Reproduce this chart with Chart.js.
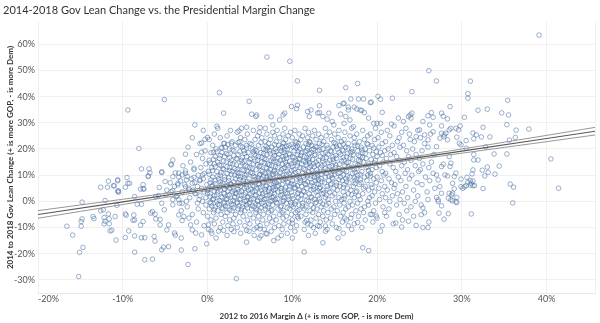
<!DOCTYPE html>
<html>
<head>
<meta charset="utf-8">
<script src="https://cdn.jsdelivr.net/npm/chart.js@4.4.0/dist/chart.umd.min.js"></script>
<style>
  html, body { margin: 0; padding: 0; background: #fff; }
  #wrap { width: 600px; height: 323px; }
</style>
</head>
<body>
<div id="wrap"><canvas id="gov-scatter" width="600" height="323"></canvas></div>
<script>
// Gov lean change 2014->2018 vs presidential margin change 2012->2016 (values in %)

const TITLE   = '2014-2018 Gov Lean Change vs. the Presidential Margin Change';
const X_TITLE = '2012 to 2016 Margin Δ (+ is more GOP, - is more Dem)';
const Y_TITLE = '2014 to 2018 Gov Lean Change (+ is more GOP, - is more Dem)';

const xRange = [-20, 45.7];
const yRange = [-35, 68.5];

// trend line + confidence band
const trendX  = [-20, -10, 0, 10, 20, 30, 40, 45.7];
const trendMid = [-5.0, -0.2, 4.7, 9.5, 14.4, 19.2, 24.0, 26.8];
const trendHi  = [-3.55, 0.8, 5.3, 9.85, 14.85, 20.0, 25.2, 28.25];
const trendLo  = [-6.45, -1.2, 4.1, 9.15, 13.95, 18.4, 22.8, 25.35];

// middle of the cloud: [y, x, x, x ...]
const coreRows = [
  [27.9, 1.2, 4.0, 6.8, 9.1, 11.5, 13.9, 17.0, 19.8, 23.4],
  [27.1, -0.5, 2.7, 5.4, 8.2, 10.3, 12.6, 15.5, 18.3, 21.2, 24.8],
  [26.4, 3.5, 6.1, 7.7, 9.8, 11.9, 14.4, 16.2, 20.5, 22.9],
  [25.7, 0.8, 4.7, 7.0, 8.9, 10.8, 13.1, 15.0, 17.6, 19.2, 23.8, 26.3],
  [25.0, 2.3, 5.9, 7.9, 9.5, 11.2, 12.4, 14.0, 16.8, 18.9, 21.5],
  [24.3, -1.8, 1.5, 3.9, 6.4, 8.5, 10.0, 11.8, 13.4, 15.4, 17.3, 20.1, 22.6, 25.1],
  [23.6, 0.2, 4.4, 5.6, 7.4, 9.2, 11.0, 12.8, 14.6, 16.1, 18.5, 19.7, 23.9],
  [22.8, 2.9, 3.8, 6.8, 8.1, 10.4, 12.0, 13.7, 15.8, 17.9, 21.0, 22.4, 24.4],
  [22.1, -0.9, 1.9, 5.0, 7.2, 9.0, 10.7, 11.6, 13.2, 15.1, 16.6, 18.8, 20.6, 25.6],
  [21.4, 0.6, 3.3, 4.6, 6.0, 8.4, 9.6, 12.3, 14.1, 15.6, 17.4, 19.4, 21.8, 23.1],
  [20.7, -2.3, 2.1, 4.1, 7.6, 8.8, 10.1, 11.3, 12.9, 14.8, 16.3, 18.1, 20.2, 22.7, 26.0],
  [20.0, 1.0, 2.6, 5.3, 6.6, 8.0, 9.4, 10.9, 12.5, 13.6, 15.3, 17.0, 18.6, 21.3, 24.2],
  [19.3, -0.3, 3.1, 4.3, 5.8, 7.3, 8.7, 10.2, 11.7, 13.0, 14.5, 16.0, 17.7, 19.1, 20.9, 23.5, 25.3],
  [18.6, 0.4, 1.7, 4.8, 6.3, 7.8, 9.0, 11.1, 12.2, 13.9, 15.5, 16.9, 18.3, 20.4, 22.0],
  [17.9, -1.3, 2.4, 3.6, 5.5, 7.0, 8.4, 9.7, 10.6, 12.7, 14.2, 15.7, 17.2, 19.5, 21.6, 24.6, 26.7],
  [17.1, 0.9, 2.0, 4.6, 6.0, 8.9, 10.0, 11.4, 13.3, 14.8, 16.4, 18.0, 20.0, 22.3, 23.7],
  [16.4, -0.6, 1.4, 3.4, 5.1, 6.7, 7.7, 9.3, 10.8, 12.0, 13.6, 15.2, 16.8, 18.7, 21.1, 25.0],
  [15.7, 0.2, 2.8, 4.0, 5.9, 7.5, 8.6, 10.4, 11.9, 13.1, 14.4, 16.1, 17.8, 19.8, 22.6, 24.0],
  [15.0, -2.0, 1.2, 2.2, 4.9, 6.4, 8.1, 9.2, 10.3, 11.6, 12.8, 14.9, 16.6, 18.4, 20.7, 23.2, 26.4],
  [14.3, -0.2, 0.8, 3.0, 5.4, 7.1, 8.8, 9.9, 11.1, 12.5, 13.8, 15.6, 17.4, 19.0, 21.5, 25.4],
  [13.6, -2.9, 1.6, 3.9, 4.5, 6.2, 7.6, 9.5, 10.6, 12.2, 13.5, 14.7, 16.2, 17.9, 20.3, 22.9, 24.5],
  [12.9, -0.8, 0.5, 2.6, 5.0, 6.9, 8.3, 9.1, 10.9, 12.0, 13.3, 15.1, 16.9, 18.7, 19.9, 21.9, 26.1],
  [12.1, -1.6, 1.9, 3.5, 4.1, 5.7, 7.4, 8.7, 10.2, 11.5, 12.9, 14.2, 15.9, 17.3, 19.4, 23.6, 25.1],
  [11.4, 0.1, 1.1, 2.9, 4.7, 6.5, 7.8, 9.4, 10.7, 11.9, 13.7, 14.9, 16.4, 18.2, 20.6, 22.2, 24.9],
  [10.7, -2.6, -0.4, 2.3, 3.7, 5.3, 6.8, 8.0, 9.6, 11.2, 12.4, 14.0, 15.4, 17.1, 19.2, 21.0, 23.3, 26.6],
  [10.0, -1.1, 1.5, 3.2, 4.4, 6.1, 7.3, 8.9, 10.1, 11.8, 13.0, 14.6, 16.0, 17.7, 18.9, 20.8, 24.1],
  [9.3, -3.4, 0.6, 2.0, 3.9, 5.6, 7.0, 8.5, 9.8, 11.3, 12.6, 13.9, 15.7, 16.8, 18.5, 20.0, 22.5, 25.7],
  [8.6, -1.9, -0.5, 1.3, 3.3, 4.9, 6.4, 7.7, 9.2, 10.5, 12.1, 13.4, 14.8, 16.3, 17.6, 19.6, 21.4, 23.8],
  [7.9, -0.9, 0.9, 2.5, 4.2, 5.9, 7.2, 8.4, 10.0, 11.0, 12.7, 14.3, 15.9, 17.4, 18.8, 20.5, 22.8, 26.2],
  [7.1, -4.4, -1.5, 0.3, 1.8, 3.6, 5.2, 6.6, 8.1, 9.5, 10.9, 12.3, 13.8, 15.2, 16.7, 18.1, 19.9, 21.7, 24.7],
  [6.4, -2.7, -0.1, 1.6, 2.8, 4.6, 6.1, 7.5, 8.8, 10.2, 11.6, 13.1, 14.5, 16.1, 17.9, 19.3, 22.1, 25.3],
  [5.7, -3.9, -1.2, 0.5, 2.2, 3.9, 5.5, 6.9, 8.2, 9.7, 11.1, 12.5, 14.1, 15.6, 17.2, 18.6, 20.9, 23.4],
  [5.0, -2.2, -0.7, 1.0, 2.6, 4.3, 5.8, 7.3, 8.7, 10.3, 11.7, 13.2, 14.9, 16.5, 18.4, 20.2, 22.0, 26.8],
  [4.3, -4.8, -1.7, 0.0, 1.5, 3.1, 4.8, 6.3, 7.8, 9.1, 10.8, 12.2, 13.6, 15.3, 16.9, 19.0, 21.2, 24.3],
  [3.6, -3.0, -0.4, 1.2, 2.9, 3.7, 5.3, 6.8, 8.3, 9.9, 11.4, 12.8, 14.4, 16.0, 17.5, 19.7, 23.0, 25.9],
  [2.9, -1.4, 0.3, 2.0, 3.4, 5.0, 6.5, 7.9, 9.4, 10.6, 12.0, 13.5, 15.0, 16.6, 18.3, 20.6, 22.4],
  [2.1, -3.6, -0.9, 0.8, 2.4, 4.0, 5.6, 7.0, 8.6, 10.0, 11.5, 13.0, 14.7, 16.2, 17.8, 19.4, 21.8, 24.8],
  [1.4, -2.1, -0.2, 1.7, 3.2, 4.7, 6.2, 7.6, 9.0, 10.7, 12.3, 13.9, 15.5, 17.3, 19.1, 21.0, 23.6],
  [0.7, -4.1, -1.0, 0.6, 2.2, 3.8, 5.1, 6.7, 8.0, 9.6, 11.0, 12.6, 14.2, 15.8, 18.0, 20.3, 22.7, 26.0],
  [0.0, -2.5, -0.6, 1.1, 2.7, 4.4, 5.9, 7.4, 8.9, 10.4, 11.9, 13.3, 15.1, 16.8, 18.9, 21.5, 24.5],
  [-0.7, -3.3, -1.2, 0.4, 1.9, 3.5, 4.9, 6.4, 8.2, 9.3, 11.2, 12.7, 14.3, 16.1, 17.7, 19.8, 23.2],
  [-1.4, -0.2, 1.4, 3.0, 4.6, 6.0, 7.7, 9.9, 10.8, 12.2, 14.0, 15.6, 17.1, 19.0, 22.3, 25.2],
  [-2.1, -2.4, 0.9, 2.4, 4.1, 5.5, 7.1, 8.6, 10.1, 11.6, 13.4, 14.9, 16.6, 18.5, 20.7, 24.0],
  [-2.9, -1.1, 0.2, 1.8, 3.6, 5.2, 6.8, 8.3, 9.7, 11.4, 12.9, 14.6, 16.3, 18.1, 21.4],
  [-3.6, -3.1, 1.2, 2.9, 4.4, 6.1, 7.5, 9.0, 10.6, 12.1, 13.7, 15.3, 17.5, 19.6, 23.5],
  [-4.3, -0.5, 0.7, 2.3, 3.9, 5.7, 7.2, 8.8, 10.4, 12.4, 14.2, 16.0, 18.4, 20.9, 25.6],
  [-5.0, -1.8, 1.6, 3.3, 5.0, 6.6, 8.5, 9.9, 11.6, 13.1, 15.0, 17.0, 19.2, 22.6],
  [-5.7, 0.0, 2.1, 4.2, 6.0, 7.8, 9.3, 11.0, 13.6, 15.7, 17.8, 21.1, 24.3],
  [-6.4, -2.2, 1.0, 3.1, 5.4, 7.3, 8.9, 10.7, 12.8, 14.5, 16.9, 20.0],
  [-7.1, 0.4, 2.6, 4.7, 6.5, 8.1, 10.0, 12.2, 14.0, 16.4, 18.6, 23.0],
  [-7.9, -1.3, 1.8, 3.8, 5.9, 7.6, 9.6, 11.5, 13.3, 15.9, 19.5],
  [-8.6, 0.8, 3.0, 5.0, 7.0, 9.0, 11.8, 14.7, 17.3, 21.9],
  [-9.3, -0.4, 2.4, 4.4, 6.2, 8.4, 10.5, 13.0, 16.6, 20.6],
  [-10.0, 1.5, 3.5, 5.8, 7.9, 9.8, 12.5, 15.2, 18.2],
  [-10.7, 0.1, 2.8, 6.7, 8.8, 11.4, 14.1, 17.0],
  [-11.4, 1.3, 4.9, 7.5, 10.3, 13.9, 20.4],
  [-12.2, 0.5, 3.9, 6.9, 9.4, 12.7, 16.0],
  [-13.0, 2.3, 5.5, 8.7, 11.9],
  [-14.0, 1.0, 6.1, 10.0, 15.4]
];

// thickest part of the cloud, between the rows above
const denseRows = [
  [22.45, 3.6, 6.3, 8.9, 10.5, 12.1, 14.9, 17.3],
  [21.75, 2.4, 5.2, 7.9, 9.9, 11.9, 13.5, 16.0, 18.9],
  [21.05, 3.9, 6.9, 9.3, 10.6, 12.7, 15.2, 17.7],
  [20.35, 1.7, 4.6, 7.1, 8.6, 10.4, 11.8, 14.2, 16.6, 19.6],
  [19.65, 2.9, 5.6, 6.9, 9.1, 12.3, 13.2, 15.9, 18.2],
  [18.95, 1.1, 3.8, 5.4, 8.1, 10.7, 11.5, 14.6, 17.1, 19.9],
  [18.25, 2.2, 4.4, 6.6, 7.4, 9.6, 12.0, 13.6, 16.5, 18.6],
  [17.5, 1.5, 3.1, 5.7, 7.9, 9.2, 11.0, 12.6, 15.1, 17.8, 20.6],
  [16.75, 2.6, 4.1, 6.4, 8.3, 10.2, 11.7, 14.0, 16.0, 18.3],
  [16.05, 0.7, 3.5, 5.0, 6.9, 9.0, 10.9, 12.4, 14.8, 17.1, 19.3],
  [15.35, 1.9, 4.3, 5.6, 7.8, 9.7, 11.3, 13.6, 15.8, 18.0],
  [14.65, 0.3, 2.7, 4.1, 6.7, 8.4, 10.6, 12.0, 14.2, 16.4, 19.7],
  [13.95, 1.4, 3.4, 5.9, 7.3, 9.3, 11.7, 13.0, 15.1, 17.7],
  [13.25, 0.9, 2.3, 4.7, 6.1, 8.0, 10.0, 12.6, 14.4, 16.6, 18.9],
  [12.5, 1.8, 3.2, 5.3, 7.0, 8.9, 11.3, 13.9, 15.5, 17.6],
  [11.75, 0.6, 2.6, 4.3, 6.3, 7.9, 9.9, 12.3, 14.7, 16.1, 19.0],
  [11.05, 1.6, 3.5, 5.1, 7.2, 8.6, 10.4, 13.0, 15.6, 17.4],
  [10.35, 0.2, 2.8, 4.6, 6.2, 7.7, 9.3, 11.6, 13.4, 15.0, 18.0],
  [9.65, 1.2, 3.6, 5.4, 6.6, 8.2, 10.6, 12.2, 14.3, 16.5, 19.2],
  [8.95, 2.5, 4.3, 6.0, 7.4, 9.0, 10.8, 12.9, 14.7, 17.3],
  [8.25, 0.4, 2.0, 3.8, 5.6, 7.0, 8.9, 11.4, 13.1, 15.5, 18.0],
  [7.5, 1.5, 3.1, 4.7, 6.5, 7.9, 9.4, 11.8, 13.5, 16.4],
  [6.75, 0.9, 2.7, 4.3, 6.0, 7.8, 9.9, 11.5, 12.9, 14.6, 17.4],
  [6.05, 0.6, 2.3, 3.6, 5.3, 6.9, 8.4, 10.6, 12.2, 15.2],
  [5.35, 1.4, 3.0, 4.6, 6.2, 7.7, 9.2, 10.3, 13.3, 16.0, 19.4],
  [4.65, 0.1, 2.0, 3.6, 5.1, 6.8, 8.0, 9.7, 12.5, 14.2],
  [3.95, 0.8, 2.4, 4.0, 5.6, 7.2, 8.7, 11.3, 13.0, 17.6],
  [3.25, 0.0, 1.9, 3.3, 4.5, 6.1, 7.5, 9.2, 10.7, 13.7],
  [2.5, 1.1, 2.6, 4.3, 5.7, 7.3, 8.8, 11.1, 14.0, 17.0],
  [1.75, 0.3, 1.6, 3.2, 4.8, 6.4, 7.8, 9.5, 12.2],
  [1.05, 0.7, 2.3, 3.9, 5.4, 6.9, 8.3, 10.1, 13.2, 16.1],
  [0.35, 1.4, 3.0, 4.6, 5.9, 7.6, 9.0, 11.7],
  [-0.35, 0.3, 2.0, 3.5, 5.0, 6.6, 8.1, 9.8, 12.8],
  [-1.05, 1.2, 2.8, 4.2, 5.7, 7.2, 10.3, 13.6],
  [-1.75, 0.5, 2.1, 3.7, 5.3, 6.8, 8.7, 11.2],
  [-2.5, 1.7, 3.1, 4.7, 6.3, 9.4, 12.5],
  [-3.25, 0.8, 2.6, 4.0, 5.8, 7.6, 10.8]
];

// left side of the cloud: x, y pairs
const leftPts = [
  -15.2,-28.7, -15.1,-19.5, -14.7,-17.6, -15.9,-12.9, -16.6,-9.5, -14.9,-9.5, -14.9,-7.7, -14.8,-6.7,
  -14.8,-0.3, -13.5,-5.8, -13.4,-6.6, -12.6,5.4, -11.7,7.7, -11.8,5.4, -11.1,6.0, -10.6,7.9,
  -10.6,3.9, -10.5,3.5, -12.1,0.3, -12.6,-3.6, -12.3,-3.2, -12.2,-6.2, -12.1,-7.6, -12.2,-8.6,
  -11.6,-8.6, -11.6,-6.7, -11.7,-4.8, -11.5,-11.3, -11.3,-11.0, -10.8,-14.8, -10.9,-5.8, -10.7,-1.5,
  -9.7,5.4, -9.5,9.1, -9.4,6.9, -9.7,-4.8, -9.6,-5.3, -9.7,-13.8, -9.3,-11.3, -8.6,-7.1,
  -8.7,-5.2, -8.8,-7.2, -8.6,1.8, -8.6,-13.2, -8.6,-19.4, -7.8,12.4, -7.6,6.4, -7.6,4.8,
  -8.3,-1.1, -7.8,-1.1, -7.9,-9.1, -7.6,-7.7, -7.8,-13.9, -7.4,-13.9, -7.4,-22.3, -6.5,-22.1,
  -2.3,-24.1, -9.4,34.9, -5.1,38.9, -1.5,29.2, 1.1,28.7, -8.1,20.2, 0.0,24.4, -0.3,23.7,
  -0.7,22.3, -2.6,18.0, -4.1,15.8, -0.7,18.8, 0.7,18.8, 1.6,20.5, -6.9,12.4, -6.8,10.9,
  -7.0,9.5, -4.3,14.2, -5.4,11.3, -3.8,10.9, -2.6,11.6, -1.6,12.7, -11.0,5.9, -10.6,8.2,
  -10.5,4.0, -9.2,6.9, -7.9,4.7, -7.5,4.7, -5.7,5.3, -5.0,7.6, -4.1,9.4, -3.5,6.3,
  -3.2,7.8, -2.5,8.2, -1.6,9.2, -0.9,8.2, -0.6,10.1, -6.5,-3.9, -6.3,-13.4, -6.2,-15.2,
  -5.4,-18.5, -5.2,-17.5, -4.6,-17.3, -3.9,-12.1, -3.8,-12.9, -3.1,-14.0, -3.1,-18.6, -1.5,-18.1,
  -0.7,-12.8, -0.1,-16.2, 0.1,-9.0, 0.4,-11.3, 1.9,-11.1, -4.6,-9.0, -4.8,-10.9, -5.6,-9.0,
  -5.6,-6.9, -6.7,-4.5, -6.2,-4.9, -6.1,-6.7, -5.1,-3.2, -5.4,-0.7, -5.4,11.0, -7.0,9.7,
  -6.1,1.8, -5.8,2.2, -4.9,2.5, -4.3,3.7, -4.1,4.1, -3.5,6.9, -4.3,13.9, -3.4,10.8,
  -3.0,10.1, -2.4,9.5, -3.7,1.8, -3.4,0.6, -3.0,-0.7, -4.1,-1.3, -3.4,-5.2, -2.8,-5.8,
  -3.0,-7.3, -2.0,-9.0, -1.8,-10.9, -1.4,-12.1, -2.6,5.6, -2.2,4.4, -1.8,6.9, -1.5,3.1
];

// lower edge of the cloud
const lowPts = [
  3.4,-29.5, 4.6,-15.6, 7.8,-15.0, 8.3,-14.0, 11.4,-19.3, 13.6,-15.8, 18.3,-17.7, 19.0,-18.8,
  3.1,-11.6, 4.6,-11.1, 5.5,-10.6, 6.2,-10.5, 6.3,-13.1, 7.0,-12.5, 10.0,-8.3, 10.6,-5.8,
  11.7,-7.3, 12.2,-9.1, 13.2,-9.6, 13.9,-9.4, 15.5,-10.4, 16.2,-6.4, 17.7,-8.1, 19.4,-5.0,
  19.9,-5.6, 22.2,-8.3, 22.9,-9.8, 23.7,-7.6, 24.6,-9.2, 25.4,-10.0, 26.0,-10.0, 26.1,-7.9, 25.2,-5.1
];

// right side of the cloud
const rightPts = [
  41.4,5.0, 35.7,6.6, 36.1,5.4, 36.0,-0.6, 31.1,-4.8, 32.5,4.9, 27.9,-6.8, 28.4,-4.7,
  27.3,-4.5, 27.6,-1.7, 25.4,-2.5, 29.4,-0.5, 29.4,1.5, 28.9,0.2, 28.4,1.2, 27.2,0.6,
  27.0,1.5, 29.9,5.6, 30.1,5.0, 30.5,6.0, 31.1,6.9, 31.5,6.0, 31.0,7.9, 29.1,4.8,
  28.9,3.1, 28.8,2.5, 28.7,0.6, 39.1,63.5, 31.0,45.9, 27.0,46.0, 30.7,41.1, 30.7,39.4,
  35.4,38.6, 28.6,36.2, 31.9,34.8, 33.0,35.2, 34.7,33.8, 35.5,33.0, 27.8,32.5, 28.3,31.5,
  30.3,32.1, 35.3,29.3, 32.5,28.3, 36.4,27.2, 37.9,27.6, 36.3,24.4, 35.6,23.4, 33.3,24.6,
  31.3,26.1, 31.7,25.4, 31.4,23.9, 32.3,24.6, 30.5,23.2, 32.8,20.8, 33.8,18.1, 35.3,18.1,
  40.5,16.2, 34.4,13.5, 33.9,10.4, 33.0,13.1, 33.1,11.1, 32.7,9.7, 32.4,11.9, 31.9,15.8,
  31.4,15.8, 31.3,12.0, 31.2,10.5, 31.4,17.9, 30.6,9.2, 30.7,7.3, 31.3,7.8, 31.0,6.2,
  31.3,6.0, 30.3,5.6, 29.8,28.8, 29.3,27.9, 29.6,27.3, 28.7,27.9, 28.5,27.3, 28.1,26.0,
  28.3,23.5, 27.9,25.4, 27.6,28.8, 27.6,26.0, 27.4,24.1, 27.9,24.7, 27.0,20.9, 29.4,24.5,
  29.7,22.2, 29.9,21.6, 30.5,20.3, 28.5,17.1, 28.7,14.6, 28.6,13.3, 27.8,14.2, 27.6,13.3,
  28.0,10.1, 27.0,10.1, 27.2,8.2, 28.3,9.7, 29.1,9.5, 29.3,10.8, 29.9,8.5, 28.9,6.9,
  28.5,3.1, 29.3,-0.1, 27.4,5.6, 27.6,3.1, 27.2,-0.1
];

// upper edge of the cloud
const topPts = [
  7.0,55.1, 9.7,53.5, 10.6,46.0, 26.1,49.9, 13.2,42.4, 16.3,43.4, 17.7,45.0, 1.4,41.5,
  24.1,41.9, 4.9,38.2, 1.9,33.7, 16.9,39.1, 17.8,39.1, 18.4,39.1, 19.2,37.7, 20.1,40.1,
  20.4,39.0, 21.8,39.4, 16.0,37.3, 9.9,36.2, 10.6,36.7, 10.5,35.4, 13.2,36.5, 16.6,36.0,
  7.5,32.3, 8.9,33.0, 5.7,32.4, 5.2,33.3, 4.6,28.3, 3.7,26.9, 2.0,22.2, 2.8,22.2,
  6.2,28.2, 7.7,29.2, 12.2,34.9, 13.2,33.9, 14.1,31.4, 14.7,30.5, 14.9,29.2, 15.7,33.3,
  16.3,32.4, 16.1,29.8, 16.8,31.1, 17.2,28.5, 16.6,34.9, 17.3,36.0, 18.0,34.9, 18.5,33.9,
  19.0,31.8, 19.6,29.8, 20.0,29.8, 20.4,29.8, 20.6,34.0, 21.7,29.5, 22.0,28.8, 22.5,31.8,
  23.1,30.5, 23.7,32.4, 24.0,31.8, 25.4,30.5, 26.2,29.2, 26.6,32.1, 25.0,27.3, 25.6,25.4,
  24.6,24.7, 26.0,23.5, 26.6,26.6, 19.3,37.9, 15.5,36.6, 16.1,37.5, 17.6,35.3, 18.2,34.7,
  23.9,33.0, 24.1,33.7, 26.4,33.9, 26.0,32.7, 27.6,33.7, 9.1,33.7, 8.5,31.1, 5.8,33.0,
  11.8,34.3, 12.0,32.4, 13.0,33.7, 13.6,32.4, 14.3,33.7
];

const FONT = "Lato, 'DejaVu Sans', sans-serif";

function rowsToPoints(rows) {
  const out = [];
  rows.forEach(function(r) {
    for (let i = 1; i < r.length; i++) out.push({ x: r[i], y: r[0] });
  });
  return out;
}

function pairsToPoints(flat) {
  const out = [];
  for (let i = 0; i + 1 < flat.length; i += 2) out.push({ x: flat[i], y: flat[i + 1] });
  return out;
}

function lineData(ys) {
  return trendX.map(function(x, i) { return { x: x, y: ys[i] }; });
}

const cloud = rowsToPoints(coreRows)
  .concat(rowsToPoints(denseRows), pairsToPoints(leftPts), pairsToPoints(lowPts),
          pairsToPoints(rightPts), pairsToPoints(topPts));

const pct = function(v) { return v + '%'; };

new Chart(document.getElementById('gov-scatter').getContext('2d'), {
  type: 'scatter',
  data: {
    datasets: [
      { data: lineData(trendMid), showLine: true, borderColor: 'rgba(80,80,80,0.95)', borderWidth: 1.1,
        pointRadius: 0, tension: 0, order: 0 },
      { data: lineData(trendHi), showLine: true, borderColor: 'rgba(140,140,140,0.9)', borderWidth: 1,
        pointRadius: 0, tension: 0.35, order: 1 },
      { data: lineData(trendLo), showLine: true, borderColor: 'rgba(140,140,140,0.9)', borderWidth: 1,
        pointRadius: 0, tension: 0.35, order: 2 },
      { data: cloud, showLine: false, pointStyle: 'circle', pointRadius: 2.3, borderWidth: 1,
        pointBorderColor: 'rgba(72,112,164,0.55)', pointBackgroundColor: 'rgba(0,0,0,0)', order: 3 }
    ]
  },
  options: {
    responsive: false,
    animation: false,
    devicePixelRatio: 1,
    events: [],
    layout: { padding: { left: 3, right: 0, top: 0, bottom: 0 } },
    plugins: {
      legend: { display: false },
      tooltip: { enabled: false },
      title: {
        display: true, text: TITLE, align: 'start', color: '#333',
        font: { family: FONT, size: 11, weight: 'normal' },
        padding: { top: 4, bottom: 4.8 }
      }
    },
    scales: {
      x: {
        type: 'linear', min: xRange[0], max: xRange[1],
        afterFit: function(s) { s.height = 30; },
        grid: { color: '#f0f0f0', drawTicks: false },
        border: { color: '#e8e8e8' },
        ticks: {
          stepSize: 10, autoSkip: false, align: 'inner', padding: 1, color: '#555',
          font: { family: FONT, size: 9 },
          callback: function(v) { return v % 10 === 0 ? pct(v) : ''; }
        },
        title: { display: true, text: X_TITLE, color: '#333',
          font: { family: FONT, size: 8, weight: 'bold' }, padding: { top: 0, bottom: 2.2 } }
      },
      y: {
        type: 'linear', min: yRange[0], max: yRange[1],
        afterFit: function(s) { s.width = 35; },
        grid: { color: '#f0f0f0', drawTicks: false },
        border: { display: false },
        ticks: {
          stepSize: 10, includeBounds: false, padding: 3, color: '#555',
          font: { family: FONT, size: 9 },
          callback: pct
        },
        title: { display: true, text: Y_TITLE, color: '#333',
          font: { family: FONT, size: 8, weight: 'bold' }, padding: { top: 2.2, bottom: 0 } }
      }
    }
  }
});
</script>
</body>
</html>
